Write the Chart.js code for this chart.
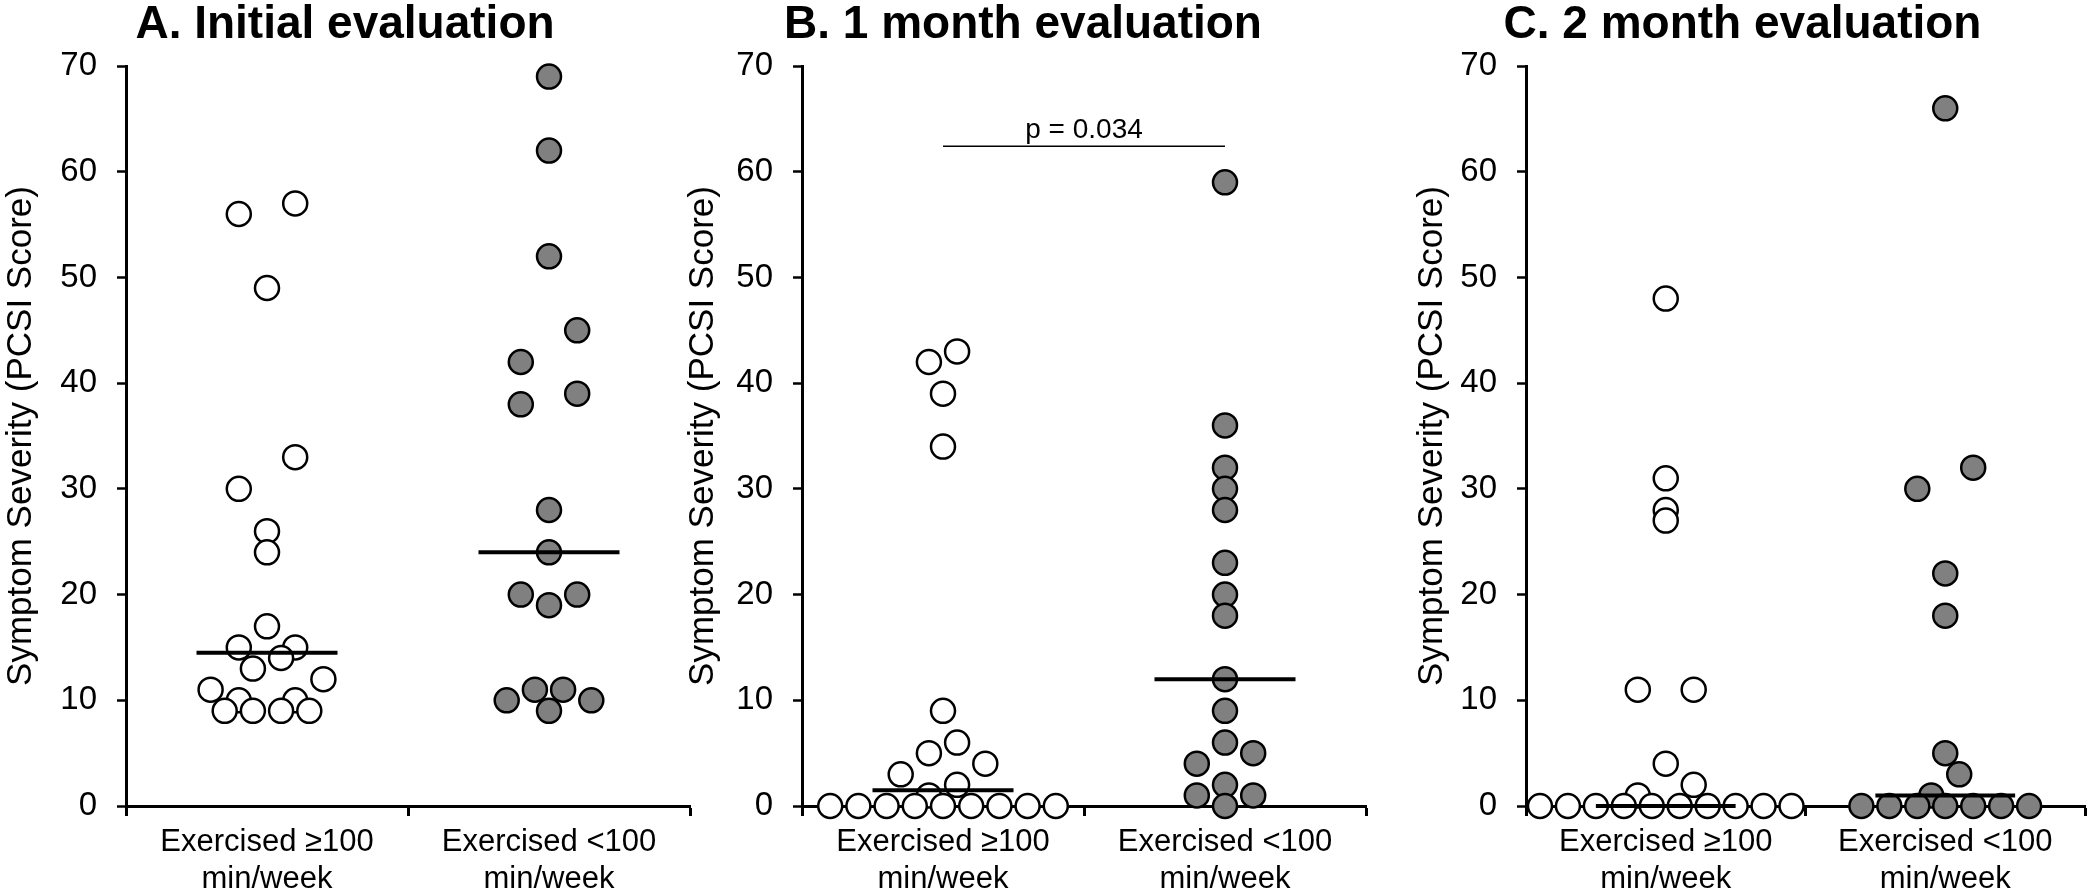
<!DOCTYPE html>
<html>
<head>
<meta charset="utf-8">
<script src="https://cdn.jsdelivr.net/npm/chart.js@4.4.1/dist/chart.umd.min.js"></script>
<style>
  body { margin: 0; background: #fff; width: 2100px; height: 895px; overflow: hidden; position: relative; }
  canvas { position: absolute; top: 0; }
</style>
</head>
<body>
<canvas id="chartA" width="816" height="895" style="left:0px"></canvas>
<canvas id="chartB" width="800" height="895" style="left:680px"></canvas>
<canvas id="chartC" width="811" height="895" style="left:1400px"></canvas>
<script>
// categories (x = 1, 2)
const groupLabels = [["Exercised \u2265100", "min/week"], ["Exercised <100", "min/week"]];
const yTicks = [0, 10, 20, 30, 40, 50, 60, 70];
const yTitle = "Symptom Severity (PCSI Score)";

// A. Initial evaluation
const aHiVals  = [56, 57, 49, 33, 30, 26, 24, 17, 15, 15, 14, 13, 12, 11, 10, 10, 9, 9, 9, 9];
const aHiSlots = [-2, 2, 0, 2, -2, 0, 0, 0, -2, 2, 1, -1, 4, -4, -2, 2, -3, -1, 1, 3];
const aLoVals  = [69, 62, 52, 45, 42, 39, 38, 28, 24, 20, 20, 19, 11, 11, 10, 10, 9];
const aLoSlots = [0, 0, 0, 2, -2, 2, -2, 0, 0, -2, 2, 0, -1, 1, -3, 3, 0];

// B. 1 month evaluation
const bHiVals  = [43, 42, 39, 34, 9, 6, 5, 4, 3, 2, 1, 0, 0, 0, 0, 0, 0, 0, 0, 0];
const bHiSlots = [1, -1, 0, 0, 0, 1, -1, 3, -3, 1, -1, -8, -6, -4, -2, 0, 2, 4, 6, 8];
const bLoVals  = [59, 36, 32, 30, 28, 23, 20, 18, 12, 9, 6, 5, 4, 2, 1, 1, 0];
const bLoSlots = [0, 0, 0, 0, 0, 0, 0, 0, 0, 0, 0, 2, -2, 0, -2, 2, 0];

// C. 2 month evaluation
const cHiVals  = [48, 31, 28, 27, 11, 11, 4, 2, 1, 0, 0, 0, 0, 0, 0, 0, 0, 0, 0];
const cHiSlots = [0, 0, 0, 0, -2, 2, 0, 2, -2, -9, -7, -5, -3, -1, 1, 3, 5, 7, 9];
const cLoVals  = [66, 32, 30, 22, 18, 5, 3, 1, 0, 0, 0, 0, 0, 0, 0];
const cLoSlots = [0, 2, -2, 0, 0, 0, 1, -1, -6, -4, -2, 0, 2, 4, 6];

// significance bracket (panel B)
const pText = "p = 0.034";
const pBracketY = 62.4;

const SLOT = 0.05;       // horizontal step of the dot swarm, in category units
const MEDIAN_HALF = 0.25;
const FONT = '"Liberation Sans", Arial, sans-serif';

function median(arr) {
  const s = [...arr].sort((a, b) => a - b);
  const m = Math.floor(s.length / 2);
  return s.length % 2 ? s[m] : (s[m - 1] + s[m]) / 2;
}

function dots(vals, slots, cat, fill) {
  return {
    data: vals.map((v, i) => ({ x: cat + slots[i] * SLOT, y: v })),
    backgroundColor: fill,
    borderColor: "#000",
    borderWidth: 2.5,
    pointRadius: 12,
    clip: false,
    order: 2
  };
}

function medianLine(vals, cat) {
  const m = median(vals);
  return {
    data: [{ x: cat - MEDIAN_HALF, y: m }, { x: cat + MEDIAN_HALF, y: m }],
    showLine: true,
    borderColor: "#000",
    borderWidth: 4,
    pointRadius: 0,
    clip: false,
    order: 0
  };
}

const pValuePlugin = {
  id: "pValue",
  afterDatasetsDraw(chart, args, opts) {
    if (!opts.text) return;
    const { ctx, scales: { x, y } } = chart;
    const cx = (x.getPixelForValue(opts.from) + x.getPixelForValue(opts.to)) / 2;
    ctx.save();
    ctx.fillStyle = "#000";
    ctx.font = "28px " + FONT;
    ctx.textAlign = "center";
    ctx.textBaseline = "alphabetic";
    ctx.fillText(opts.text, cx, y.getPixelForValue(opts.y) - 8);
    ctx.restore();
  }
};

// geo: left = y-axis box width, right = padding so the title centres over the plot
function makeChart(id, title, hiVals, hiSlots, loVals, loSlots, geo, pval) {
  const datasets = [
    medianLine(hiVals, 1),
    medianLine(loVals, 2),
    dots(hiVals, hiSlots, 1, "#ffffff"),
    dots(loVals, loSlots, 2, "#808080")
  ];
  if (pval) {
    datasets.push({
      data: [{ x: 1, y: pBracketY }, { x: 2, y: pBracketY }],
      showLine: true, borderColor: "#000", borderWidth: 1.5, pointRadius: 0, order: 0
    });
  }
  return new Chart(document.getElementById(id), {
    type: "scatter",
    data: { datasets },
    plugins: [pValuePlugin],
    options: {
      responsive: false,
      devicePixelRatio: 1,
      animation: false,
      events: [],
      layout: { padding: { left: 0, right: geo.right, top: 0, bottom: 0 } },
      plugins: {
        legend: { display: false },
        tooltip: { enabled: false },
        title: {
          display: true,
          text: title,
          color: "#000",
          font: { family: FONT, size: 46, weight: "bold", lineHeight: 1 },
          padding: { top: 2, bottom: 18 }
        },
        pValue: pval ? { text: pText, from: 1, to: 2, y: pBracketY } : {}
      },
      scales: {
        x: {
          type: "linear",
          min: 0.5,
          max: 2.5,
          afterBuildTicks: s => { s.ticks = [0.5, 1, 1.5, 2, 2.5].map(v => ({ value: v })); },
          afterFit: s => { s.height = 89; },
          ticks: {
            autoSkip: false,
            maxRotation: 0,
            padding: 8,
            color: "#000",
            font: { family: FONT, size: 31, lineHeight: 1.2 },
            callback: v => (v === 1 ? groupLabels[0] : v === 2 ? groupLabels[1] : "")
          },
          grid: {
            drawOnChartArea: false,
            tickLength: 10,
            tickWidth: 3,
            color: c => (c.tick && Number.isInteger(c.tick.value) ? "rgba(0,0,0,0)" : "#000")
          },
          border: { color: "#000", width: 3 }
        },
        y: {
          min: 0,
          max: 70,
          afterBuildTicks: s => { s.ticks = yTicks.map(v => ({ value: v })); },
          afterFit: s => { s.width = geo.left; },
          ticks: {
            padding: 20,
            color: "#000",
            font: { family: FONT, size: 33 }
          },
          grid: { drawOnChartArea: false, tickLength: 9, tickWidth: 2.5, color: "#000" },
          border: { color: "#000", width: 3 },
          title: {
            display: true,
            text: yTitle,
            color: "#000",
            font: { family: FONT, size: 35, lineHeight: 1 },
            padding: { top: geo.titleX - 17.5, bottom: 0 }
          }
        }
      }
    }
  });
}

makeChart("chartA", "A. Initial evaluation", aHiVals, aHiSlots, aLoVals, aLoSlots,
  { left: 126, right: 126, titleX: 21 }, false);
makeChart("chartB", "B. 1 month evaluation", bHiVals, bHiSlots, bLoVals, bLoSlots,
  { left: 122, right: 114, titleX: 23 }, true);
makeChart("chartC", "C. 2 month evaluation", cHiVals, cHiSlots, cLoVals, cLoSlots,
  { left: 126, right: 126, titleX: 32 }, false);
</script>
</body>
</html>
